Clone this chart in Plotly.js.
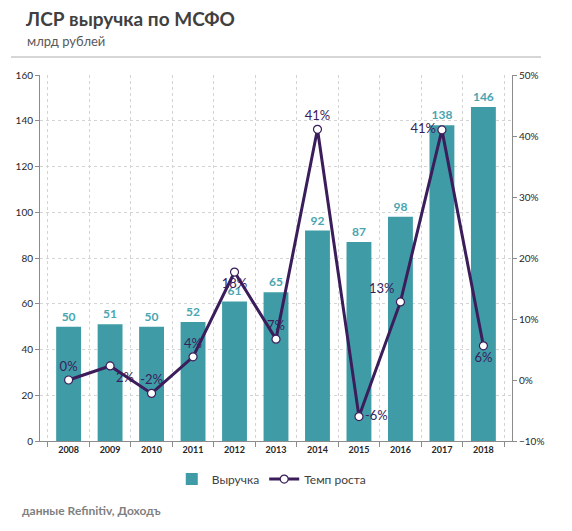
<!DOCTYPE html>
<html>
<head>
<meta charset="utf-8">
<script src="https://cdn.plot.ly/plotly-3.0.1.min.js"></script>
<style>html,body{margin:0;padding:0;background:#fff;}#chart{width:572px;height:531px;}</style>
</head>
<body>
<div id="chart"></div>
<script>
const years = ['2008','2009','2010','2011','2012','2013','2014','2015','2016','2017','2018'];
const revenue = [50, 51, 50, 52, 61, 65, 92, 87, 98, 138, 146];
const growth = [0.000, 0.023, -0.022, 0.038, 0.177, 0.067, 0.411, -0.060, 0.128, 0.410, 0.056];
const seriesNames = ['Выручка', 'Темп роста'];

const FONT = 'Lato, "Open Sans", sans-serif';
const teal = '#3f9ca6';
const purple = '#3a1d5a';

const growthPos = ['top center','bottom right','top center','top center','bottom center','top center',
                   'top center','middle right','top left','middle left','bottom center'];

const traces = [
  {
    type: 'bar', name: seriesNames[0], x: years, y: revenue,
    marker: {color: teal}, width: 0.6,
    text: revenue.map(v => '<b>' + v + '</b>'), textposition: 'outside',
    textfont: {family: FONT, size: 12, color: '#4aa5b0'}, cliponaxis: false,
    hoverinfo: 'x+y'
  },
  {
    type: 'scatter', mode: 'lines+markers+text', name: seriesNames[1], x: years, y: growth, yaxis: 'y2',
    line: {color: purple, width: 3},
    marker: {size: 8, color: '#ffffff', line: {color: purple, width: 1.2}},
    text: growth.map(v => Math.round(v * 100) + '%'),
    textposition: growthPos,
    textfont: {family: FONT, size: 13, color: purple}, cliponaxis: false
  }
];

const layout = {
  width: 572, height: 531,
  margin: {l: 40, r: 60, t: 75, b: 90},
  paper_bgcolor: '#fff', plot_bgcolor: '#fff',
  font: {family: FONT, color: '#404040'},
  bargap: 0.4,
  showlegend: true,
  legend: {orientation: 'h', x: 0.49, xanchor: 'center', y: -0.104, yanchor: 'middle',
           font: {family: FONT, size: 12, color: '#404040'}, itemwidth: 30, tracegroupgap: 0},
  xaxis: {
    type: 'category', tickson: 'boundaries', showgrid: true, gridcolor: '#d4d4d4', griddash: 'dot',
    showline: true, linecolor: '#8c8c8c', linewidth: 1,
    ticks: 'outside', ticklen: 5, tickcolor: '#8c8c8c',
    tickfont: {family: FONT, size: 9, color: '#262626', weight: 'bold'},
    fixedrange: true
  },
  yaxis: {
    range: [0, 160], dtick: 20, showgrid: true, gridcolor: '#d4d4d4', griddash: 'dot',
    showline: true, linecolor: '#8c8c8c', linewidth: 1, zeroline: false,
    ticks: 'outside', ticklen: 4, tickcolor: '#8c8c8c',
    tickfont: {family: FONT, size: 10, color: '#262626'}
  },
  yaxis2: {
    overlaying: 'y', side: 'right', range: [-0.1, 0.5], dtick: 0.1, tickformat: '.0%',
    showgrid: false, zeroline: false, showline: true, linecolor: '#8c8c8c', linewidth: 1,
    ticks: 'outside', ticklen: 4, tickcolor: '#8c8c8c',
    tickfont: {family: FONT, size: 10, color: '#262626'}
  },
  shapes: [
    {type: 'line', xref: 'paper', yref: 'paper', x0: -0.0614, x1: 1.0614, y0: 1.049, y1: 1.049,
     line: {color: '#c8c8c8', width: 1.5}}
  ],
  annotations: [
    {xref: 'paper', yref: 'paper', x: -0.036, y: 1.155, xanchor: 'left', yanchor: 'middle', showarrow: false,
     text: '<b>ЛСР выручка по МСФО</b>', font: {family: FONT, size: 19, color: '#404040'}},
    {xref: 'paper', yref: 'paper', x: -0.032, y: 1.093, xanchor: 'left', yanchor: 'middle', showarrow: false,
     text: 'млрд рублей', font: {family: FONT, size: 13, color: '#595959'}},
    {xref: 'paper', yref: 'paper', x: -0.042, y: -0.189, xanchor: 'left', yanchor: 'middle', showarrow: false,
     text: '<b>данные Refinitiv, Доходъ</b>', font: {family: FONT, size: 12, color: '#7f7f7f'}}
  ]
};

Plotly.newPlot('chart', traces, layout, {displayModeBar: false, staticPlot: true});
</script>
</body>
</html>
